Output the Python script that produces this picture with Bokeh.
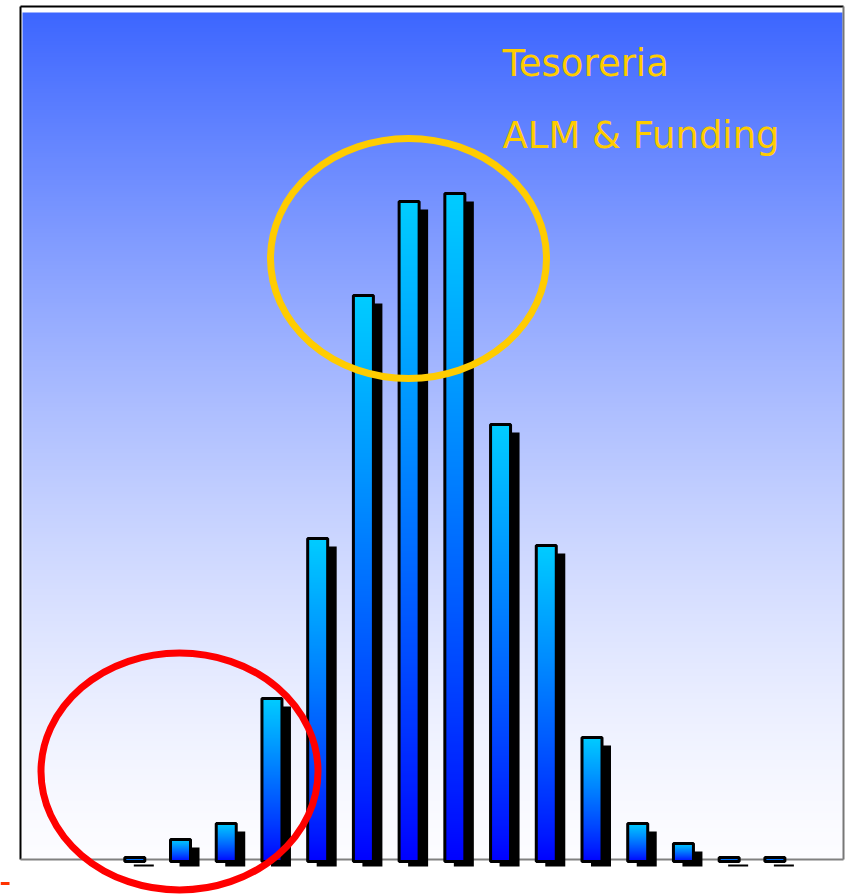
import numpy as np
from bokeh.plotting import figure
from bokeh.models import Range1d
from bokeh.core.properties import value
from bokeh.embed import file_html
from bokeh.resources import INLINE

# ---- data -------------------------------------------------------------
categories = list(range(18))
values = [0, 0, 0.2, 2.0, 3.6, 16.1, 32.1, 56.4, 65.8, 66.6, 43.5, 31.4,
          12.2, 3.6, 1.6, 0.2, 0.2, 0]
title_lines = ["Tesoreria", "ALM & Funding"]

# ---- layout (pixel geometry) -----------------------------------------
W, H = 845, 894
X0, STEP = 20, 45.72      # left edge of plot area, pixels per category
Y0, PXU = 859, 10.0       # baseline pixel, pixels per value unit


def px(xp):
    return (xp - X0) / STEP - 0.5


def py(yp):
    return (Y0 - yp) / PXU


p = figure(width=W, height=H, output_backend="svg", toolbar_location=None,
           x_range=Range1d(px(0), px(W)), y_range=Range1d(py(H), py(0)),
           x_axis_location=None, y_axis_location=None, min_border=0)
p.grid.visible = False
p.outline_line_color = None
p.background_fill_color = "white"
p.border_fill_color = "white"


def gradient(n, bottom, top, gamma=1.0):
    t = (np.linspace(0, 1, n) ** gamma)[:, None]
    img = np.empty((n, 1), dtype=np.uint32)
    v = img.view(dtype=np.uint8).reshape((n, 1, 4))
    for k in range(3):
        v[:, :, k] = np.round(bottom[k] + (top[k] - bottom[k]) * t).astype(np.uint8)
    v[:, :, 3] = 255
    return img


# background gradient
bg = gradient(400, (252, 252, 255), (61, 102, 255), gamma=1.4)
p.image_rgba(image=[bg], x=px(22), y=py(859), dw=(842 - 22) / STEP,
             dh=(859 - 12) / PXU)

# frame
p.line([px(20), px(843)], [py(6), py(6)], line_color="black", line_width=2)
p.line([px(20), px(20)], [py(6), py(859)], line_color="black", line_width=2)
p.line([px(843), px(843)], [py(6), py(859)], line_color="#777777", line_width=2)
p.line([px(20), px(843)], [py(859), py(859)], line_color="#808080", line_width=2)

# bars
bw = 20 / STEP
dx = 9 / STEP
xs = [c for c, v in zip(categories, values) if v > 0]
vs = [v for v in values if v > 0]
bot = -0.2

p.quad(left=[x - bw / 2 + dx for x in xs], right=[x + bw / 2 + dx for x in xs],
       top=[max(v - 0.8, -0.5) for v in vs], bottom=-0.7,
       fill_color="black", line_color=None)

bar_img = gradient(300, (0, 0, 255), (0, 204, 255), gamma=0.85)
p.image_rgba(image=[bar_img] * len(xs), x=[x - bw / 2 for x in xs], y=bot,
             dw=bw, dh=[v - bot for v in vs])
p.quad(left=[x - bw / 2 for x in xs], right=[x + bw / 2 for x in xs],
       top=vs, bottom=bot, fill_color=None, line_color="black", line_width=3)

# highlight ellipses
p.ellipse(x=[px(408)], y=[py(258)], width=[276], height=[240],
          width_units="screen", height_units="screen",
          fill_color=None, line_color="#ffcc00", line_width=7)
p.ellipse(x=[px(179)], y=[py(771)], width=[277], height=[237],
          width_units="screen", height_units="screen",
          fill_color=None, line_color="#ff0000", line_width=7)

# stray red mark bottom-left
p.line([px(0), px(9)], [py(883), py(883)], line_color="#ff3300", line_width=3)

# title texts
p.text(x=[px(502), px(502)], y=[py(63), py(135)], text=title_lines,
       text_font=value("DejaVu Sans"), text_font_size="37px",
       text_color="#ffcc00", text_align="left", text_baseline="alphabetic")

open("out.html", "w").write(file_html(p, INLINE))
